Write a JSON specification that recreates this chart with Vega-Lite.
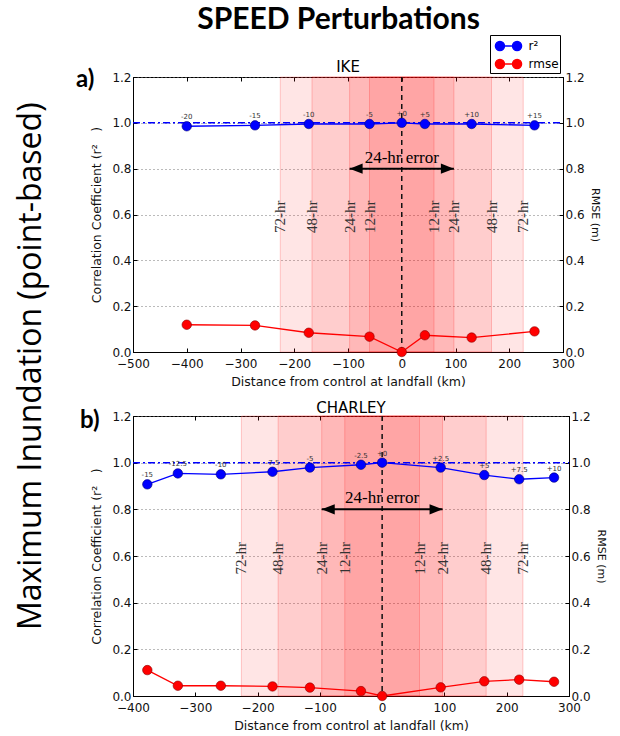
{
  "$schema": "https://vega.github.io/schema/vega-lite/v6.json",
  "padding": {"left": 14, "top": 4, "right": 5, "bottom": 4},
  "background": "white",
  "title": {"text": "SPEED Perturbations", "font": "Lato", "fontSize": 30, "fontWeight": "bold", "color": "black", "anchor": "middle", "offset": 0, "dx": 28},
  "datasets": {
    "ike": [
      {"x": -400, "r2": 0.985, "rmse": 0.119, "label": "-20"},
      {"x": -273, "r2": 0.989, "rmse": 0.116, "label": "-15"},
      {"x": -173, "r2": 0.995, "rmse": 0.084, "label": "-10"},
      {"x": -60, "r2": 0.995, "rmse": 0.067, "label": "-5"},
      {"x": 0, "r2": 1.0, "rmse": 0.0, "label": "+0"},
      {"x": 43, "r2": 0.995, "rmse": 0.073, "label": "+5"},
      {"x": 130, "r2": 0.995, "rmse": 0.063, "label": "+10"},
      {"x": 247, "r2": 0.989, "rmse": 0.09, "label": "+15"}
    ],
    "charley": [
      {"x": -377, "r2": 0.907, "rmse": 0.111, "label": "-15"},
      {"x": -328, "r2": 0.954, "rmse": 0.044, "label": "-12.5"},
      {"x": -259, "r2": 0.95, "rmse": 0.044, "label": "-10"},
      {"x": -176, "r2": 0.961, "rmse": 0.041, "label": "-7.5"},
      {"x": -116, "r2": 0.979, "rmse": 0.036, "label": "-5"},
      {"x": -34, "r2": 0.991, "rmse": 0.021, "label": "-2.5"},
      {"x": 0, "r2": 1.0, "rmse": 0.0, "label": "+0"},
      {"x": 94, "r2": 0.979, "rmse": 0.037, "label": "+2.5"},
      {"x": 164, "r2": 0.947, "rmse": 0.063, "label": "+5"},
      {"x": 220, "r2": 0.929, "rmse": 0.07, "label": "+7.5"},
      {"x": 276, "r2": 0.936, "rmse": 0.061, "label": "+10"}
    ],
    "bands": [
      {"x": -226, "x2": 226},
      {"x": -167, "x2": 167},
      {"x": -97, "x2": 97},
      {"x": -60, "x2": 60}
    ],
    "bandLabels": [
      {"x": -226, "label": "72-hr"},
      {"x": -167, "label": "48-hr"},
      {"x": -97, "label": "24-hr"},
      {"x": -60, "label": "12-hr"},
      {"x": 60, "label": "12-hr"},
      {"x": 97, "label": "24-hr"},
      {"x": 167, "label": "48-hr"},
      {"x": 226, "label": "72-hr"}
    ],
    "errorSpan": [
      {"x": -97, "x2": 97, "label": "24-hr error"}
    ]
  },
  "resolve": {"scale": {"color": "independent"}, "legend": {"color": "independent"}},
  "vconcat": [
    {
      "title": {"text": "Maximum Inundation (point-based)", "orient": "left", "font": "Open Sans", "fontSize": 32, "fontWeight": "normal", "color": "black", "anchor": "middle", "offset": 28, "dx": 17},
      "spacing": 12,
      "vconcat": [
        {
          "width": 430,
          "height": 275,
          "title": {"text": "IKE", "font": "DejaVu Sans", "fontSize": 15, "fontWeight": "normal", "color": "black", "offset": -7},
          "data": {"name": "ike"},
          "resolve": {"scale": {"y": "independent"}, "axis": {"x": "independent"}},
          "layer": [
            {
              "layer": [
                {
                  "data": {"name": "bands"},
                  "mark": {"type": "rect", "fill": "#ff0000", "fillOpacity": 0.1, "stroke": "#ff0000", "strokeOpacity": 0.2, "strokeWidth": 1},
                  "encoding": {
                    "x": {"field": "x", "type": "quantitative", "scale": {"domain": [-500, 300], "nice": false, "zero": false},
                          "axis": {"values": [-500, -400, -300, -200, -100, 0, 100, 200, 300], "format": "d", "title": "Distance from control at landfall (km)", "grid": false}},
                    "x2": {"field": "x2"}
                  }
                },
                {
                  "data": {"name": "bandLabels"},
                  "mark": {"type": "text", "angle": 270, "font": "Liberation Serif", "fontSize": 15, "color": "#333333", "align": "center", "baseline": "middle"},
                  "encoding": {
                    "x": {"field": "x", "type": "quantitative"},
                    "y": {"datum": 0.59},
                    "text": {"field": "label"}
                  }
                },
                {
                  "data": {"values": [{}]},
                  "mark": {"type": "rule", "color": "#111111", "strokeDash": [5, 4], "strokeWidth": 1.5},
                  "encoding": {"x": {"datum": 0}}
                },
                {
                  "data": {"values": [{}]},
                  "mark": {"type": "rule", "color": "#0000ff", "strokeDash": [7, 3, 2, 3], "strokeWidth": 1.5},
                  "encoding": {"x": {"datum": -500}, "x2": {"datum": 300}, "y": {"datum": 1}}
                },
                {
                  "mark": {"type": "line", "strokeWidth": 1.3},
                  "encoding": {
                    "x": {"field": "x", "type": "quantitative"},
                    "y": {"field": "r2", "type": "quantitative", "scale": {"domain": [0, 1.2], "nice": false, "zero": false},
                          "axis": {"orient": "left", "values": [0, 0.2, 0.4, 0.6, 0.8, 1.0, 1.2], "format": ".1f", "title": "Correlation Coefficient (r²\u2003)", "grid": true, "gridDash": [1, 3], "gridColor": "#777777", "gridWidth": 1}},
                    "color": {"datum": "r²", "type": "nominal",
                              "scale": {"domain": ["r²", "rmse"], "range": ["#0000ff", "#ff0000"]},
                              "legend": {"orient": "none", "legendX": 357, "legendY": -42, "title": null, "fillColor": "white", "strokeColor": "black", "padding": 1, "rowPadding": -1, "symbolOffset": 7.5,
                                         "symbolType": "M-0.95,0L0.95,0M-1.45,0A0.5,0.5,0,1,0,-0.45,0A0.5,0.5,0,1,0,-1.45,0ZM0.45,0A0.5,0.5,0,1,0,1.45,0A0.5,0.5,0,1,0,0.45,0Z",
                                         "symbolSize": 324, "symbolStrokeWidth": 1.5, "labelFont": "DejaVu Sans", "labelFontSize": 12, "labelColor": "black", "labelOffset": 10,
                                         "encode": {"symbols": {"update": {
                                           "fill": {"signal": "datum.value === 'rmse' ? '#ff0000' : '#0000ff'"},
                                           "stroke": {"signal": "datum.value === 'rmse' ? '#ff0000' : '#0000ff'"},
                                           "fillOpacity": {"value": 1}
                                         }}}}}
                  }
                },
                {
                  "mark": {"type": "point", "filled": true, "size": 90, "color": "#0000ff", "stroke": "#00007a", "strokeWidth": 0.6, "opacity": 1},
                  "encoding": {
                    "x": {"field": "x", "type": "quantitative"},
                    "y": {"field": "r2", "type": "quantitative"}
                  }
                },
                {
                  "mark": {"type": "text", "font": "DejaVu Sans", "fontSize": 7, "color": "#333333", "baseline": "bottom", "dy": -6},
                  "encoding": {
                    "x": {"field": "x", "type": "quantitative"},
                    "y": {"field": "r2", "type": "quantitative"},
                    "text": {"field": "label"}
                  }
                },
                {
                  "data": {"name": "errorSpan"},
                  "mark": {"type": "rule", "color": "black", "strokeWidth": 2},
                  "encoding": {
                    "x": {"field": "x", "type": "quantitative"},
                    "x2": {"field": "x2"},
                    "y": {"datum": 0.8}
                  }
                },
                {
                  "data": {"name": "errorSpan"},
                  "mark": {"type": "point", "shape": "M0,0L2,-0.8L2,0.8Z", "filled": true, "size": 169, "color": "black", "opacity": 1},
                  "encoding": {
                    "x": {"field": "x", "type": "quantitative"},
                    "y": {"datum": 0.8}
                  }
                },
                {
                  "data": {"name": "errorSpan"},
                  "mark": {"type": "point", "shape": "M0,0L-2,-0.8L-2,0.8Z", "filled": true, "size": 169, "color": "black", "opacity": 1},
                  "encoding": {
                    "x": {"field": "x2", "type": "quantitative"},
                    "y": {"datum": 0.8}
                  }
                },
                {
                  "data": {"name": "errorSpan"},
                  "mark": {"type": "text", "font": "Liberation Serif", "fontSize": 17, "color": "black", "align": "center", "baseline": "bottom", "dy": -2},
                  "encoding": {
                    "x": {"datum": 0},
                    "y": {"datum": 0.8},
                    "text": {"field": "label"}
                  }
                },
                {
                  "data": {"values": [{"panel": "a)"}]},
                  "mark": {"type": "text", "font": "Lato", "fontSize": 24, "fontWeight": "bold", "color": "black", "align": "left", "baseline": "alphabetic", "dx": -57, "dy": 10},
                  "encoding": {
                    "x": {"datum": -500},
                    "y": {"datum": 1.2},
                    "text": {"field": "panel"}
                  }
                }
              ]
            },
            {
              "layer": [
                {
                  "mark": {"type": "line", "strokeWidth": 1.3},
                  "encoding": {
                    "x": {"field": "x", "type": "quantitative", "axis": {"orient": "top", "labels": false, "domain": false, "title": null, "values": [-500, -400, -300, -200, -100, 0, 100, 200, 300]}},
                    "y": {"field": "rmse", "type": "quantitative", "scale": {"domain": [0, 1.2], "nice": false, "zero": false},
                          "axis": {"orient": "right", "values": [0, 0.2, 0.4, 0.6, 0.8, 1.0, 1.2], "format": ".1f", "title": "RMSE (m)", "titleFontSize": 11, "grid": false, "titlePadding": 5}},
                    "color": {"datum": "rmse", "type": "nominal"}
                  }
                },
                {
                  "mark": {"type": "point", "filled": true, "size": 90, "color": "#ff0000", "stroke": "#8a0000", "strokeWidth": 0.6, "opacity": 1},
                  "encoding": {
                    "x": {"field": "x", "type": "quantitative"},
                    "y": {"field": "rmse", "type": "quantitative"}
                  }
                }
              ]
            }
          ]
        },
        {
          "width": 436,
          "height": 280,
          "title": {"text": "CHARLEY", "font": "DejaVu Sans", "fontSize": 15, "fontWeight": "normal", "color": "black", "offset": -7},
          "data": {"name": "charley"},
          "resolve": {"scale": {"y": "independent"}, "axis": {"x": "independent"}},
          "layer": [
            {
              "layer": [
                {
                  "data": {"name": "bands"},
                  "mark": {"type": "rect", "fill": "#ff0000", "fillOpacity": 0.1, "stroke": "#ff0000", "strokeOpacity": 0.2, "strokeWidth": 1},
                  "encoding": {
                    "x": {"field": "x", "type": "quantitative", "scale": {"domain": [-400, 300], "nice": false, "zero": false},
                          "axis": {"values": [-400, -300, -200, -100, 0, 100, 200, 300], "format": "d", "title": "Distance from control at landfall (km)", "grid": false}},
                    "x2": {"field": "x2"}
                  }
                },
                {
                  "data": {"name": "bandLabels"},
                  "mark": {"type": "text", "angle": 270, "font": "Liberation Serif", "fontSize": 15, "color": "#333333", "align": "center", "baseline": "middle"},
                  "encoding": {
                    "x": {"field": "x", "type": "quantitative"},
                    "y": {"datum": 0.59},
                    "text": {"field": "label"}
                  }
                },
                {
                  "data": {"values": [{}]},
                  "mark": {"type": "rule", "color": "#111111", "strokeDash": [5, 4], "strokeWidth": 1.5},
                  "encoding": {"x": {"datum": 0}}
                },
                {
                  "data": {"values": [{}]},
                  "mark": {"type": "rule", "color": "#0000ff", "strokeDash": [7, 3, 2, 3], "strokeWidth": 1.5},
                  "encoding": {"x": {"datum": -400}, "x2": {"datum": 300}, "y": {"datum": 1}}
                },
                {
                  "mark": {"type": "line", "strokeWidth": 1.3, "color": "#0000ff"},
                  "encoding": {
                    "x": {"field": "x", "type": "quantitative"},
                    "y": {"field": "r2", "type": "quantitative", "scale": {"domain": [0, 1.2], "nice": false, "zero": false},
                          "axis": {"orient": "left", "values": [0, 0.2, 0.4, 0.6, 0.8, 1.0, 1.2], "format": ".1f", "title": "Correlation Coefficient (r²\u2003)", "grid": true, "gridDash": [1, 3], "gridColor": "#777777", "gridWidth": 1}}
                  }
                },
                {
                  "mark": {"type": "point", "filled": true, "size": 90, "color": "#0000ff", "stroke": "#00007a", "strokeWidth": 0.6, "opacity": 1},
                  "encoding": {
                    "x": {"field": "x", "type": "quantitative"},
                    "y": {"field": "r2", "type": "quantitative"}
                  }
                },
                {
                  "mark": {"type": "text", "font": "DejaVu Sans", "fontSize": 7, "color": "#333333", "baseline": "bottom", "dy": -6},
                  "encoding": {
                    "x": {"field": "x", "type": "quantitative"},
                    "y": {"field": "r2", "type": "quantitative"},
                    "text": {"field": "label"}
                  }
                },
                {
                  "data": {"name": "errorSpan"},
                  "mark": {"type": "rule", "color": "black", "strokeWidth": 2},
                  "encoding": {
                    "x": {"field": "x", "type": "quantitative"},
                    "x2": {"field": "x2"},
                    "y": {"datum": 0.8}
                  }
                },
                {
                  "data": {"name": "errorSpan"},
                  "mark": {"type": "point", "shape": "M0,0L2,-0.8L2,0.8Z", "filled": true, "size": 169, "color": "black", "opacity": 1},
                  "encoding": {
                    "x": {"field": "x", "type": "quantitative"},
                    "y": {"datum": 0.8}
                  }
                },
                {
                  "data": {"name": "errorSpan"},
                  "mark": {"type": "point", "shape": "M0,0L-2,-0.8L-2,0.8Z", "filled": true, "size": 169, "color": "black", "opacity": 1},
                  "encoding": {
                    "x": {"field": "x2", "type": "quantitative"},
                    "y": {"datum": 0.8}
                  }
                },
                {
                  "data": {"name": "errorSpan"},
                  "mark": {"type": "text", "font": "Liberation Serif", "fontSize": 17, "color": "black", "align": "center", "baseline": "bottom", "dy": -2},
                  "encoding": {
                    "x": {"datum": 0},
                    "y": {"datum": 0.8},
                    "text": {"field": "label"}
                  }
                },
                {
                  "data": {"values": [{"panel": "b)"}]},
                  "mark": {"type": "text", "font": "Lato", "fontSize": 24, "fontWeight": "bold", "color": "black", "align": "left", "baseline": "alphabetic", "dx": -53, "dy": 12},
                  "encoding": {
                    "x": {"datum": -400},
                    "y": {"datum": 1.2},
                    "text": {"field": "panel"}
                  }
                }
              ]
            },
            {
              "layer": [
                {
                  "mark": {"type": "line", "strokeWidth": 1.3, "color": "#ff0000"},
                  "encoding": {
                    "x": {"field": "x", "type": "quantitative", "axis": {"orient": "top", "labels": false, "domain": false, "title": null, "values": [-400, -300, -200, -100, 0, 100, 200, 300]}},
                    "y": {"field": "rmse", "type": "quantitative", "scale": {"domain": [0, 1.2], "nice": false, "zero": false},
                          "axis": {"orient": "right", "values": [0, 0.2, 0.4, 0.6, 0.8, 1.0, 1.2], "format": ".1f", "title": "RMSE (m)", "titleFontSize": 11, "grid": false, "titlePadding": 5}}
                  }
                },
                {
                  "mark": {"type": "point", "filled": true, "size": 90, "color": "#ff0000", "stroke": "#8a0000", "strokeWidth": 0.6, "opacity": 1},
                  "encoding": {
                    "x": {"field": "x", "type": "quantitative"},
                    "y": {"field": "rmse", "type": "quantitative"}
                  }
                }
              ]
            }
          ]
        }
      ]
    }
  ],
  "config": {
    "view": {"stroke": "black", "strokeWidth": 1},
    "axis": {
      "labelFont": "DejaVu Sans", "labelFontSize": 12, "labelColor": "#111111",
      "titleFont": "DejaVu Sans", "titleFontSize": 12.5, "titleFontWeight": "normal", "titleColor": "#111111",
      "domainColor": "black", "tickColor": "black", "tickSize": -4,
      "labelFlush": false, "labelOverlap": false
    },
    "axisX": {"labelPadding": 10, "titlePadding": 6},
    "axisY": {"labelPadding": 6, "titlePadding": 8}
  }
}
